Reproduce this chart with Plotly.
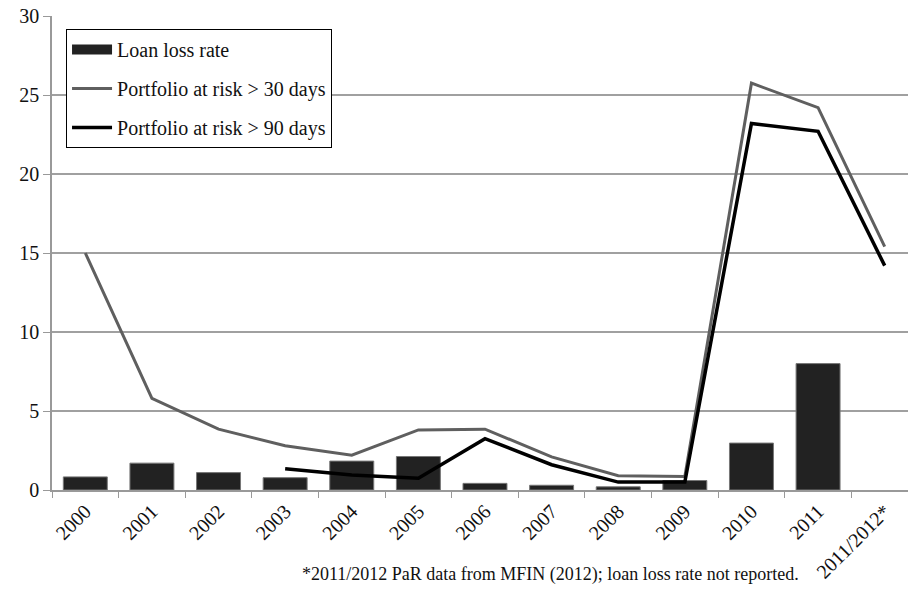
import plotly.graph_objects as go

years = ["2000", "2001", "2002", "2003", "2004", "2005", "2006", "2007",
         "2008", "2009", "2010", "2011", "2011/2012*"]
loan_loss = [0.83, 1.7, 1.1, 0.78, 1.83, 2.12, 0.42, 0.3, 0.2, 0.6, 2.97, 8.0, None]
par30 = [15.0, 5.8, 3.85, 2.8, 2.2, 3.8, 3.85, 2.1, 0.9, 0.85, 25.75, 24.2, 15.4]
par90 = [None, None, None, 1.35, 0.95, 0.75, 3.25, 1.6, 0.5, 0.5, 23.2, 22.7, 14.2]

FONT = "Liberation Serif, Times New Roman, serif"
BAR_COLOR = "#222222"

fig = go.Figure()
fig.add_trace(go.Bar(
    x=years, y=loan_loss, name="Loan loss rate", width=0.66, showlegend=False,
    marker=dict(color=BAR_COLOR, line=dict(color="#777777", width=1)),
))
# legend-only entry so the legend key is a wide block, as in the original
fig.add_trace(go.Scatter(
    x=[None], y=[None], name="Loan loss rate", mode="lines",
    line=dict(color=BAR_COLOR, width=11), legendgroup="a",
))
fig.add_trace(go.Scatter(
    x=years, y=par30, name="Portfolio at risk > 30 days", mode="lines",
    line=dict(color="#5f5f5f", width=3), legendgroup="b",
))
fig.add_trace(go.Scatter(
    x=years, y=par90, name="Portfolio at risk > 90 days", mode="lines",
    line=dict(color="#000000", width=3.5), connectgaps=False, legendgroup="c",
))

fig.update_layout(
    width=908, height=590,
    margin=dict(l=52, r=0, t=16, b=100),
    paper_bgcolor="white", plot_bgcolor="white",
    font=dict(family=FONT, size=20, color="#111111"),
    showlegend=True,
    legend=dict(
        x=0.0164, y=0.9726, xanchor="left", yanchor="top",
        bgcolor="white", bordercolor="#000000", borderwidth=1,
        font=dict(family=FONT, size=20, color="#111111"),
        itemwidth=40, tracegroupgap=10,
    ),
    xaxis=dict(
        type="category", range=[-0.5, 12.35],
        showgrid=False, showline=True, linecolor="#999999", linewidth=1.5,
        ticks="outside", tickson="boundaries", ticklen=6, tickcolor="#999999",
        tickangle=-45, tickfont=dict(family=FONT, size=20, color="#111111"),
        ticklabeloverflow="allow", automargin=False,
    ),
    yaxis=dict(
        range=[0, 30], dtick=5, showgrid=True, gridcolor="#a0a0a0", gridwidth=1.5,
        showline=True, linecolor="#999999", linewidth=1.5,
        ticks="outside", ticklen=7, tickcolor="#999999",
        tickfont=dict(family=FONT, size=20, color="#111111"),
        zeroline=False, ticklabeloverflow="allow", automargin=False,
    ),
    annotations=[dict(
        text="*2011/2012 PaR data from MFIN (2012); loan loss rate not reported.",
        xref="paper", yref="paper", x=0.582, y=-0.179,
        xanchor="center", yanchor="middle", showarrow=False,
        font=dict(family=FONT, size=18, color="#111111"),
    )],
)

fig.write_html(
    "out.html",
    config={"displayModeBar": False},
    post_script="document.body.style.margin='0';document.body.style.overflow='hidden';",
)
